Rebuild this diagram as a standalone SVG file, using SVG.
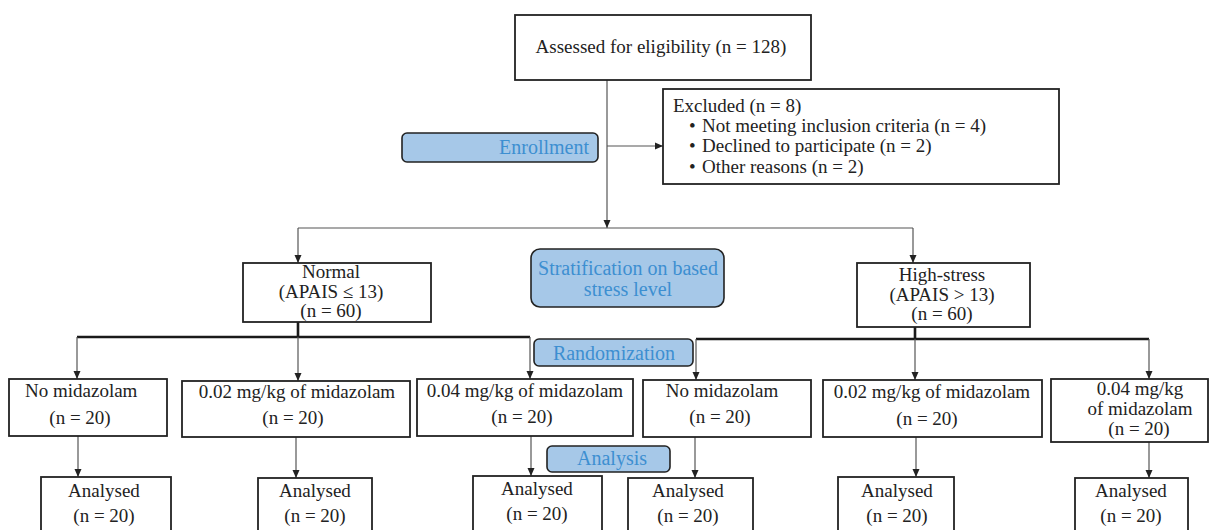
<svg xmlns="http://www.w3.org/2000/svg" width="1209" height="530" viewBox="0 0 1209 530">
<defs>
<marker id="ah" markerUnits="userSpaceOnUse" markerWidth="8" markerHeight="8" viewBox="0 0 8 8" refX="8" refY="4" orient="auto">
<path d="M0,0.5 L8,4 L0,7.5 Z" fill="#222"/>
</marker>
<style>
.box{fill:#fff;stroke:#222;stroke-width:1.8}
.lbl{fill:#a6c8e8;stroke:#222;stroke-width:1.6}
.t{font-family:"Liberation Serif",serif;font-size:19px;fill:#222}
.tc{font-family:"Liberation Serif",serif;font-size:19px;fill:#222;text-anchor:middle}
.b{font-family:"Liberation Serif",serif;font-size:20px;fill:#3d8fd1}
.c{fill:none;stroke:#555;stroke-width:1.2}
.a{fill:none;stroke:#555;stroke-width:1.2;marker-end:url(#ah)}
.k{fill:none;stroke:#1a1a1a;stroke-width:2.6}
</style>
</defs>
<rect width="1209" height="530" fill="#fff"/>
<g id="connectors">
<path class="a" d="M607,80 V228"/>
<path class="a" d="M607,146 H663"/>
<path class="c" d="M298,228 H913"/>
<path class="a" d="M298,228 V263"/>
<path class="a" d="M913,228 V263"/>
<path class="k" d="M298,322 V337 M77,337 H530"/>
<path class="a" d="M77,337 V379"/>
<path class="a" d="M298,337 V381"/>
<path class="a" d="M530,337 V379"/>
<path class="k" d="M915,327 V339 M696,339 H1149"/>
<path class="a" d="M696,339 V380"/>
<path class="a" d="M915,339 V380"/>
<path class="a" d="M1149,339 V379"/>
<path class="a" d="M78,436 V477"/>
<path class="a" d="M296,437 V478"/>
<path class="a" d="M531,436 V476"/>
<path class="a" d="M695,437 V478"/>
<path class="a" d="M916,437 V477"/>
<path class="a" d="M1149,442 V478"/>
</g>
<g id="assessed">
<rect class="box" x="515" y="15" width="296" height="65"/>
<text class="tc" x="661" y="53">Assessed for eligibility (n = 128)</text>
</g>
<g id="enrollment">
<rect class="lbl" x="402" y="133" width="196" height="29" rx="5"/>
<text class="b" x="589" y="154" text-anchor="end">Enrollment</text>
</g>
<g id="excluded">
<rect class="box" x="663" y="89" width="396" height="95"/>
<text class="t" x="673" y="112">Excluded (n = 8)</text>
<text class="t" x="689" y="132">•</text><text class="t" x="702" y="132">Not meeting inclusion criteria (n = 4)</text>
<text class="t" x="689" y="152">•</text><text class="t" x="702" y="152">Declined to participate (n = 2)</text>
<text class="t" x="689" y="173">•</text><text class="t" x="702" y="173">Other reasons (n = 2)</text>
</g>
<g id="normal">
<rect class="box" x="243" y="263" width="188" height="59"/>
<text class="tc" x="331" y="278">Normal</text>
<text class="tc" x="331" y="297.5">(APAIS ≤ 13)</text>
<text class="tc" x="331" y="317">(n = 60)</text>
</g>
<g id="stratification">
<rect class="lbl" x="531" y="249" width="193" height="58" rx="9"/>
<text class="b" x="628" y="275" text-anchor="middle">Stratification on based</text>
<text class="b" x="628" y="296" text-anchor="middle">stress level</text>
</g>
<g id="highstress">
<rect class="box" x="857" y="263" width="173" height="64"/>
<text class="tc" x="942" y="281">High-stress</text>
<text class="tc" x="942" y="300.5">(APAIS &gt; 13)</text>
<text class="tc" x="942" y="320">(n = 60)</text>
</g>
<g id="randomization">
<rect class="lbl" x="534" y="339" width="159" height="27" rx="5"/>
<text class="b" x="614" y="360" text-anchor="middle">Randomization</text>
</g>
<g id="g1">
<rect class="box" x="9" y="379" width="158" height="57"/>
<text class="t" x="25" y="397">No midazolam</text>
<text class="tc" x="80" y="424">(n = 20)</text>
</g>
<g id="g2">
<rect class="box" x="182" y="381" width="228" height="56"/>
<text class="tc" x="297" y="398">0.02 mg/kg of midazolam</text>
<text class="tc" x="293" y="424">(n = 20)</text>
</g>
<g id="g3">
<rect class="box" x="417" y="379" width="216" height="57"/>
<text class="tc" x="525" y="397">0.04 mg/kg of midazolam</text>
<text class="tc" x="522" y="423">(n = 20)</text>
</g>
<g id="g4">
<rect class="box" x="643" y="380" width="168" height="57"/>
<text class="tc" x="722" y="397">No midazolam</text>
<text class="tc" x="720" y="423">(n = 20)</text>
</g>
<g id="g5">
<rect class="box" x="823" y="380" width="219" height="57"/>
<text class="tc" x="932" y="398">0.02 mg/kg of midazolam</text>
<text class="tc" x="927" y="425">(n = 20)</text>
</g>
<g id="g6">
<rect class="box" x="1051" y="379" width="157" height="63"/>
<text class="tc" x="1140" y="395">0.04 mg/kg</text>
<text class="tc" x="1140" y="415">of midazolam</text>
<text class="tc" x="1139" y="435">(n = 20)</text>
</g>
<g id="analysis">
<rect class="lbl" x="547" y="446" width="123" height="26" rx="5"/>
<text class="b" x="612" y="465" text-anchor="middle">Analysis</text>
</g>
<g id="a1">
<rect class="box" x="41" y="477" width="130" height="70"/>
<text class="tc" x="104" y="497">Analysed</text>
<text class="tc" x="104" y="522">(n = 20)</text>
</g>
<g id="a2">
<rect class="box" x="258" y="478" width="114" height="70"/>
<text class="tc" x="315" y="497">Analysed</text>
<text class="tc" x="315" y="522">(n = 20)</text>
</g>
<g id="a3">
<rect class="box" x="473" y="476" width="129" height="70"/>
<text class="tc" x="537" y="495">Analysed</text>
<text class="tc" x="537" y="520">(n = 20)</text>
</g>
<g id="a4">
<rect class="box" x="628" y="478" width="125" height="70"/>
<text class="tc" x="688" y="497">Analysed</text>
<text class="tc" x="688" y="522">(n = 20)</text>
</g>
<g id="a5">
<rect class="box" x="838" y="477" width="116" height="70"/>
<text class="tc" x="897" y="497">Analysed</text>
<text class="tc" x="897" y="522">(n = 20)</text>
</g>
<g id="a6">
<rect class="box" x="1075" y="478" width="113" height="70"/>
<text class="tc" x="1131" y="497">Analysed</text>
<text class="tc" x="1131" y="522">(n = 20)</text>
</g>
</svg>
